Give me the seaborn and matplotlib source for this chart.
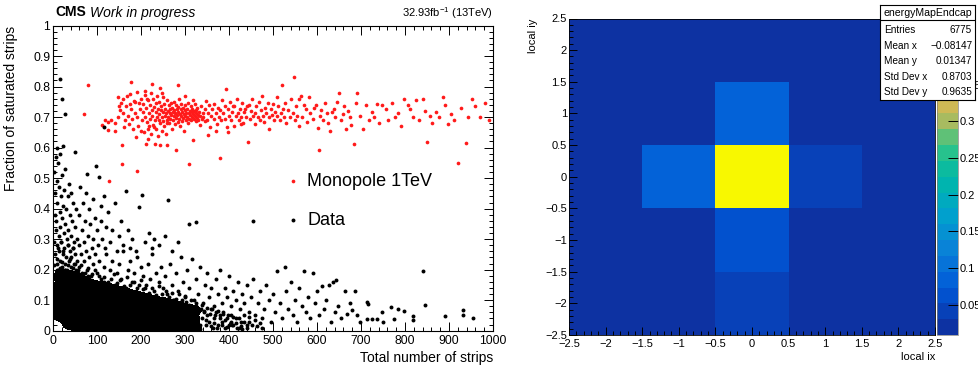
import numpy as np
import pandas as pd
import matplotlib
matplotlib.use("Agg")
import matplotlib.pyplot as plt
from matplotlib.colors import ListedColormap, LinearSegmentedColormap
from matplotlib.ticker import MultipleLocator, FuncFormatter, NullLocator
import seaborn as sns

plt.rcParams['font.family'] = ['Liberation Sans', 'DejaVu Sans']
plt.rcParams['mathtext.fontset'] = 'custom'
plt.rcParams['mathtext.rm'] = 'Liberation Sans'
plt.rcParams['mathtext.it'] = 'Liberation Sans:italic'
plt.rcParams['mathtext.bf'] = 'Liberation Sans:bold'

# ---------------- left panel data: (total strips, saturated fraction) ----------------
mono_left = [(70,.711),(80,.806),(128,.49),(112,.674),(118,.690),(124,.684),(131,.692),(126,.658),
    (140,.681),(142,.655),(148,.700),(148,.766),(152,.722),(155,.745),(157,.607),(157,.546),(159,.760),
    (160,.712),(163,.690),(165,.735),(168,.770),(170,.703),(172,.676),(175,.742),(178,.815),(178,.725),
    (180,.693),(182,.660),(184,.752),(186,.713),(188,.636),(190,.782),(191,.522),(192,.700),(194,.672),
    (196,.745),(198,.728),(199,.655),(200,.760),(150,.735),(162,.668),(174,.776),(186,.748)]
mono_dense = [(202,.690),(204,.718),(205,.742),(207,.650),(208,.772),(210,.700),(211,.612),(212,.730),
    (214,.684),(215,.755),(217,.662),(218,.712),(220,.740),(221,.695),(222,.780),(223,.646),(225,.722),
    (226,.705),(227,.758),(228,.675),(230,.733),(231,.690),(232,.612),(233,.745),(234,.715),(235,.662),
    (236,.770),(237,.700),(238,.728),(239,.638),(240,.690),(241,.750),(242,.710),(243,.680),(244,.607),
    (245,.735),(246,.722),(247,.655),(248,.700),(249,.765),(250,.688),(251,.718),(252,.742),(253,.670),
    (254,.705),(255,.728),(256,.645),(257,.712),(258,.756),(259,.692),(260,.607),(224,.808),(216,.628),
    (229,.668),(209,.786),(213,.758),(219,.672),(243,.795),(247,.778),(258,.680),
    (261,.720),(262,.700),(263,.738),(264,.682),(265,.712),(266,.726),(267,.695),(268,.745),(269,.708),
    (270,.660),(271,.730),(272,.716),(273,.690),(274,.750),(275,.703),(276,.722),(277,.678),(278,.712),
    (279,.740),(280,.591),(280,.698),(281,.727),(282,.706),(283,.684),(284,.733),(285,.718),(286,.695),
    (287,.760),(288,.711),(289,.672),(290,.726),(291,.702),(292,.742),(293,.688),(294,.716),(295,.730),
    (296,.697),(297,.710),(298,.655),(299,.722),(300,.704),(301,.738),(302,.690),(303,.714),(304,.727),
    (305,.700),(306,.680),(307,.745),(308,.712),(309,.546),(310,.694),(311,.721),(312,.707),(313,.735),
    (314,.689),(315,.716),(316,.700),(317,.728),(318,.710),(319,.624),(320,.695),(321,.719),(322,.742),
    (323,.704),(324,.686),(325,.724),(326,.712),(327,.698),(328,.730),(329,.706),(330,.690),(332,.718),
    (334,.702),(336,.736),(338,.694),(340,.714),(285,.805),(300,.770),(318,.756),(335,.675)]
mono_mid = [(342,.700),(345,.725),(348,.752),(350,.690),(352,.712),(355,.738),(357,.668),(360,.705),
    (362,.726),(365,.695),(367,.742),(370,.712),(372,.678),(375,.730),(377,.700),(379,.565),(380,.722),
    (382,.690),(385,.756),(387,.712),(390,.735),(392,.695),(395,.668),(397,.725),(400,.705),(402,.748),
    (405,.690),(407,.718),(410,.735),(412,.672),(415,.702),(418,.760),(420,.712),(422,.690),(425,.728),
    (427,.700),(430,.745),(432,.682),(435,.715),(438,.700),(440,.735),(444,.618),(353,.640),(371,.655),
    (394,.792),(412,.735),(428,.676),(436,.726),(346,.688),(398,.650),
    (445,.740),(448,.695),(450,.720),(452,.760),(455,.705),(458,.678),(460,.712),(462,.735),(465,.700),
    (468,.748),(470,.690),(472,.722),(475,.770),(478,.705),(480,.685),(482,.730),(485,.712),(488,.745),
    (490,.700),(492,.660),(495,.725),(498,.708),(500,.742),(502,.690),(505,.718),(508,.702),(510,.765),
    (512,.735),(515,.690),(518,.712),(520,.805),(522,.728),(525,.700),(528,.745),(530,.680),(535,.722),
    (538,.700),(540,.760),(545,.712),(548,.830),(550,.690),(552,.735),(555,.705),(558,.672),(560,.760)]
mono_right = [(563,.770),(566,.700),(570,.740),(574,.728),(578,.685),(582,.765),(585,.712),(590,.695),
    (594,.730),(598,.740),(602,.665),(604,.591),(606,.705),(610,.722),(614,.690),(618,.745),(622,.712),
    (626,.680),(630,.655),(634,.715),(638,.728),(642,.700),(646,.750),(650,.778),(654,.690),(658,.710),
    (662,.735),(666,.660),(670,.720),(674,.700),(678,.675),(684,.613),(688,.745),(692,.780),(698,.705),
    (705,.660),(712,.740),(718,.690),(724,.715),(730,.700),(736,.742),(742,.680),(748,.738),(756,.725),
    (762,.690),(770,.745),(778,.700),(784,.712),(790,.672),(798,.760),(806,.740),(812,.725),(818,.700),
    (826,.755),(832,.690),(840,.760),(846,.720),(849,.617),(856,.705),(862,.680),(870,.715),(878,.700),
    (886,.765),(892,.740),(898,.678),(905,.710),(912,.690),(921,.550),(928,.730),(938,.615),(944,.700),
    (952,.760),(960,.735),(970,.700),(982,.745),(992,.690)]

data_upper = [(16,.826),(20,.76),(28,.711),(115,.667),(3,.52),(5,.45),(4,.38),(6,.33),(8,.60),(9,.49),
    (10,.42),(7,.36),(12,.55),(13,.31),(14,.47),(15,.39),(16,.58),(17,.34),(18,.44),(19,.29),(20,.51),
    (21,.37),(22,.41),(23,.604),(25,.32),(26,.46),(27,.35),(28,.53),(30,.40),(31,.30),(33,.44),(35,.33),
    (36,.48),(38,.38),(40,.31),(42,.45),(44,.36),(46,.42),(48,.29),(50,.586),(51,.34),(53,.40),(55,.30),
    (11,.27),(23,.26),(34,.28),(45,.27),(6,.57)]
data_mid = [(60,.38),(62,.47),(65,.33),(68,.42),(70,.29),(72,.36),(75,.45),(78,.515),(80,.31),(82,.40),
    (85,.35),(88,.27),(90,.43),(92,.30),(95,.37),(98,.54),(100,.33),(102,.28),(105,.504),(108,.41),
    (110,.36),(112,.30),(115,.44),(118,.27),(120,.34),(125,.39),(130,.29),(135,.33),(140,.42),(145,.26),
    (150,.31),(155,.36),(160,.28),(166,.458),(170,.33),(175,.27),(180,.30),(188,.26),(195,.406),(203,.445),
    (210,.29),(218,.32),(225,.27),(230,.299),(240,.28),(255,.309),(262,.428),(270,.26),(285,.29),(310,.348),
    (325,.355),(455,.359)]
data_halo = [(2,.29),(5,.25),(8,.22),(10,.28),(12,.20),(14,.26),(16,.23),(18,.29),(20,.21),(22,.25),
    (24,.19),(26,.27),(28,.22),(30,.24),(32,.20),(34,.28),(36,.23),(38,.26),(40,.21),(42,.24),(44,.19),
    (46,.27),(48,.22),(50,.25),(52,.20),(55,.23),(58,.28),(60,.21),(63,.25),(66,.19),(70,.23),(74,.26),
    (78,.20),(82,.24),(86,.18),(90,.22),(95,.25),(100,.19),
    (105,.23),(110,.17),(115,.21),(120,.25),(125,.16),(130,.20),(135,.23),(140,.15),(145,.19),(150,.22),
    (155,.17),(160,.26),(165,.14),(170,.20),(175,.23),(180,.16),(185,.19),(190,.24),(195,.15),(200,.21),
    (205,.18),(210,.14),(215,.22),(220,.17),(225,.25),(230,.13),(235,.19),(240,.16),(245,.21),(250,.14),
    (255,.18),(260,.12),(265,.22),(270,.15),(275,.10),(280,.19),(285,.13),(290,.24),(295,.16),(300,.11),
    (305,.20),(310,.14),(315,.235),(320,.10),(325,.17),(330,.12),(335,.21),(340,.09),(345,.15),(350,.19),
    (355,.11),(360,.14),(365,.08),(370,.17),(375,.12),(380,.20),(385,.09),(390,.14),(395,.11),(400,.18),
    (405,.08),(410,.13),(415,.10),(420,.16),(425,.07),(430,.12),(435,.09),(440,.15),(445,.06),(450,.11)]
data_edge = [(3,.215),(9,.235),(15,.205),(21,.225),(27,.2),(33,.215),(39,.235),(45,.205),(51,.22),
    (57,.2),(64,.215),(72,.19),(80,.205),(88,.185),(96,.2),
    (104,.18),(110,.155),(117,.175),(124,.15),(131,.17),(138,.185),(146,.155),(153,.165),(161,.145),
    (168,.175),(176,.15),(184,.16),(192,.14),(199,.165),
    (205,.135),(212,.15),(219,.125),(226,.14),(233,.118),(241,.145),(248,.12),(256,.13),(263,.11),
    (271,.125),(279,.105),(286,.12),(294,.1),(299,.115),
    (302,.095),(308,.085),(314,.1),(320,.075),(326,.09),(332,.07),(338,.085),(344,.065),(350,.075),
    (356,.055),(362,.07),(368,.05),(374,.065),(380,.04),(386,.055),(392,.035),(398,.05),(404,.03),
    (410,.045),(416,.025),(422,.04),(428,.015),(434,.03),(440,.01),(446,.045),(452,.02),(458,.035),
    (464,.015),(470,.025),(476,.01),(348,.035),(358,.015),(366,.025),(372,.008),(384,.018),(396,.012),
    (406,.02),(418,.008),(430,.006),
    (343,.06),(347,.02),(351,.05),(355,.03),(359,.07),(363,.01),(367,.04),(371,.06),(375,.02),(379,.05),
    (383,.03),(387,.06),(391,.01),(395,.04),(399,.02),(404,.05),(410,.02),(416,.04),(422,.01),(428,.03),
    (434,.05),(440,.02),(446,.03)]
data_tail = [(455,.17),(460,.05),(465,.09),(470,.13),(475,.04),(480,.07),(485,.15),(490,.10),(495,.03),
    (500,.12),(505,.06),(510,.196),(515,.09),(520,.04),(527,.208),(530,.13),(535,.07),(540,.16),(545,.05),
    (550,.10),(555,.03),(560,.14),(565,.08),(570,.195),(575,.06),(580,.11),(585,.04),(590,.188),(595,.09),
    (600,.13),(605,.05),(611,.145),(615,.07),(620,.10),(628,.15),(632,.03),(637,.158),(640,.06),(644,.166),
    (648,.08),(655,.04),(663,.131),(668,.056),(675,.09),(680,.067),(686,.13),(692,.053),(698,.03),
    (713,.095),(717,.087),(713,.037),(725,.037),(736,.037),(747,.062),(750,.028),(769,.077),(774,.038),
    (785,.072),(797,.064),(818,.048),(818,.035),(840,.196),(846,.084),(890,.048),(932,.068),(932,.052),(955,.04)]
data_core = [(1,.05),(2,.12),(3,.18),(4,.08),(5,.15),(6,.04),(7,.10),(8,.20),(9,.07),(10,.13),(11,.17),
    (12,.05),(13,.09),(14,.14),(15,.19),(16,.06),(17,.11),(18,.16),(19,.035),(20,.08),
    (21,.13),(22,.18),(23,.05),(24,.10),(25,.15),(26,.07),(27,.12),(28,.20),(29,.04),(30,.09),(31,.14),
    (32,.17),(33,.06),(34,.11),(35,.02),(36,.16),(37,.08),(38,.13),(39,.19),(40,.05),
    (41,.10),(42,.15),(43,.01),(44,.07),(45,.12),(46,.18),(47,.04),(48,.09),(49,.14),(50,.06),(51,.11),
    (52,.17),(53,.02),(54,.08),(55,.13),(56,.19),(57,.05),(58,.10),(59,.15),(60,.03),
    (61,.07),(62,.12),(63,.16),(64,.04),(65,.09),(66,.14),(67,.01),(68,.06),(69,.11),(70,.17),(71,.03),
    (72,.08),(73,.13),(74,.05),(75,.10),(76,.15),(77,.02),(78,.07),(79,.12),(80,.18),
    (81,.04),(82,.09),(83,.14),(84,.01),(85,.06),(86,.11),(87,.16),(88,.03),(89,.08),(90,.13),(91,.05),
    (92,.10),(93,.15),(94,.02),(95,.07),(96,.12),(97,.04),(98,.09),(99,.14),(100,.06),
    (101,.11),(102,.01),(103,.15),(104,.04),(105,.08),(106,.13),(107,.03),(108,.10),(109,.06),(110,.14),
    (111,.02),(112,.09),(113,.12),(114,.05),(115,.16),(116,.07),(117,.11),(118,.01),(119,.13),(120,.04),
    (121,.09),(122,.14),(123,.06),(124,.02),(125,.11),(126,.08),(127,.13),(128,.04),(129,.10),(130,.15),
    (131,.01),(132,.07),(133,.12),(134,.05),(135,.09),(136,.14),(137,.03),(138,.11),(139,.06),(140,.13),
    (141,.02),(142,.08),(143,.12),(144,.05),(145,.10),(146,.14),(147,.01),(148,.07),(149,.11),(150,.04),
    (151,.09),(152,.13),(153,.03),(154,.06),(155,.12),(156,.08),(157,.01),(158,.10),(159,.05),(160,.13),
    (161,.07),(162,.02),(163,.11),(164,.04),(165,.09),(166,.13),(167,.06),(168,.01),(169,.10),(170,.03),
    (171,.12),(172,.08),(173,.05),(174,.11),(175,.02),(176,.07),(177,.12),(178,.04),(179,.09),(180,.06),
    (181,.11),(182,.01),(183,.08),(184,.12),(185,.03),(186,.06),(187,.10),(188,.05),(189,.02),(190,.09),
    (191,.12),(192,.04),(193,.07),(194,.11),(195,.01),(196,.06),(197,.09),(198,.03),(199,.12),(200,.05),
    (202,.08),(204,.02),(206,.11),(208,.05),(210,.09),(212,.01),(214,.07),(216,.11),(218,.04),(220,.08),
    (222,.02),(224,.10),(226,.06),(228,.03),(230,.09),(232,.11),(234,.05),(236,.01),(238,.08),(240,.04),
    (242,.10),(244,.06),(246,.02),(248,.09),(250,.05),(252,.01),(254,.08),(256,.03),(258,.10),(260,.06),
    (262,.02),(264,.09),(266,.04),(268,.07),(270,.01),(272,.10),(274,.05),(276,.03),(278,.08),(280,.06),
    (282,.01),(284,.09),(286,.04),(288,.07),(290,.02),(292,.08),(294,.05),(296,.01),(298,.07),(300,.03),
    (303,.06),(306,.02),(309,.08),(312,.04),(315,.07),(318,.01),(321,.05),(324,.08),(327,.03),(330,.06),
    (333,.02),(336,.07),(339,.04),
    (32,.012),(45,.006),(58,.01),(72,.008),(86,.012),(99,.006),(112,.004),(126,.008),(139,.005),
    (153,.009),(166,.004),(179,.007),(193,.005),(207,.008),(221,.004),(235,.006),(249,.003),(263,.007),
    (277,.004),(291,.006),(305,.004),(319,.006),(333,.005)]

legend_labels = ["Monopole 1TeV", "Data"]

# ---------------- right panel data: energy map ----------------
local_ix = [-2, -1, 0, 1, 2]
local_iy = [-2, -1, 0, 1, 2]
energy_frac = [  # rows: local iy = -2 .. 2, columns: local ix = -2 .. 2
    [0.009, 0.012, 0.050, 0.011, 0.009],
    [0.011, 0.016, 0.072, 0.015, 0.010],
    [0.013, 0.094, 0.435, 0.052, 0.012],
    [0.012, 0.015, 0.092, 0.014, 0.011],
    [0.010, 0.011, 0.012, 0.010, 0.009],
]
cell_edges = [-2.5, -1.5, -0.5, 0.5, 1.5, 2.5]
stats_title = "energyMapEndcap"
stats_names = ["Entries", "Mean x", "Mean y", "Std Dev x", "Std Dev y"]
stats_values = ["6775", "\u22120.08147", "0.01347", "0.8703", "0.9635"]
cbar_ticks = [0.05, 0.1, 0.15, 0.2, 0.25, 0.3, 0.35, 0.4]

# ---------------- figure ----------------
W, H = 979, 367
fig = plt.figure(figsize=(W / 100, H / 100), dpi=100)
def fx(p): return p / W
def fy(p): return 1 - p / H

ax1 = fig.add_axes([fx(53), fy(330.7), fx(493) - fx(53), fy(25.5) - fy(330.7)])

mono = mono_left + mono_dense + mono_mid + mono_right
data = data_upper + data_mid + data_halo + data_edge + data_tail + data_core
mono_df = pd.DataFrame(mono, columns=["strips", "frac"])
data_df = pd.DataFrame(data, columns=["strips", "frac"])
core_df = pd.DataFrame(data_core, columns=["strips", "frac"])

# solid dense core of the Data scatter, from the density of its densest points
sns.kdeplot(data=core_df, x="strips", y="frac", fill=True, levels=[0.05, 1.0], bw_adjust=0.5,
            cmap=ListedColormap(["black"]), clip=((0, 1000), (0, 1)), ax=ax1)
sns.scatterplot(data=mono_df, x="strips", y="frac", color="#ff1a1a", s=7, linewidth=0,
                ax=ax1, label=legend_labels[0])
sns.scatterplot(data=data_df, x="strips", y="frac", color="black", s=8, linewidth=0,
                ax=ax1, label=legend_labels[1])

ax1.set_xlim(0, 1000)
ax1.set_ylim(0, 1)
ax1.xaxis.set_major_locator(MultipleLocator(100))
ax1.xaxis.set_minor_locator(MultipleLocator(20))
ax1.yaxis.set_major_locator(MultipleLocator(0.1))
ax1.yaxis.set_minor_locator(MultipleLocator(0.02))
gfmt = FuncFormatter(lambda v, p: f"{v:g}".replace('-', '\u2212'))
ax1.xaxis.set_major_formatter(gfmt)
ax1.yaxis.set_major_formatter(gfmt)
ax1.tick_params(which='both', direction='in', top=True, right=True, width=0.7, labelsize=8.7)
ax1.tick_params(which='major', length=6.5)
ax1.tick_params(which='minor', length=3.2)
ax1.tick_params(axis='y', pad=2)
ax1.tick_params(axis='x', pad=3)
for s in ax1.spines.values():
    s.set_linewidth(0.8)
ax1.set_xlabel("Total number of strips", fontsize=10, loc='right', labelpad=3)
ax1.set_ylabel("Fraction of saturated strips", fontsize=10, loc='top', labelpad=11)

h, l = ax1.get_legend_handles_labels()
keep = [(hh, ll) for hh, ll in zip(h, l) if ll in legend_labels]
ax1.legend([k[0] for k in keep], [k[1] for k in keep], loc='upper left',
           bbox_to_anchor=(fx(284), fy(173)), bbox_transform=fig.transFigure,
           frameon=False, fontsize=13, handlelength=1.0, handletextpad=0.3, labelspacing=1.2,
           borderpad=0, borderaxespad=0, markerscale=1.0)

fig.text(fx(55), fy(12.5), "CMS", fontsize=10, fontweight='bold', va='center', ha='left')
fig.text(fx(90), fy(12.5), "Work in progress", fontsize=10, style='italic', va='center', ha='left')
fig.text(fx(493), fy(13), r"32.93fb$^{-1}$ (13TeV)", fontsize=8, ha='right', va='center')

# ---------------- right panel ----------------
ax2 = fig.add_axes([fx(569), fy(335), fx(935) - fx(569), fy(18.5) - fy(335)])
cax = fig.add_axes([fx(937), fy(335), fx(958) - fx(937), fy(18.5) - fy(335)])

rows = []
for i, iy in enumerate(local_iy):
    for j, ix in enumerate(local_ix):
        rows.append({"ix": ix, "iy": iy, "frac": energy_frac[i][j]})
heat_df = pd.DataFrame(rows)

nodes = [(0.0, "#0d32a2"), (0.125, "#0058d8"), (0.25, "#0a80d8"), (0.375, "#00a2cc"),
         (0.5, "#00b8a8"), (0.6, "#30c486"), (0.675, "#a0bc62"), (0.75, "#d8b852"),
         (0.875, "#fcc832"), (1.0, "#f8f800")]
base = LinearSegmentedColormap.from_list("bird", nodes)
bird20 = ListedColormap([base(i / 19) for i in range(20)])

sns.histplot(data=heat_df, x="ix", y="iy", weights="frac", bins=cell_edges, cmap=bird20,
             vmin=0.009, vmax=0.44, cbar=True, cbar_ax=cax,
             cbar_kws=dict(ticks=cbar_ticks), ax=ax2)

ax2.set_xlim(-2.5, 2.5)
ax2.set_ylim(-2.5, 2.5)
for axis in (ax2.xaxis, ax2.yaxis):
    axis.set_major_locator(MultipleLocator(0.5))
    axis.set_minor_locator(MultipleLocator(0.1))
    axis.set_major_formatter(gfmt)
ax2.tick_params(which='both', direction='in', top=False, right=False, width=0.7, labelsize=8)
ax2.tick_params(which='major', length=6)
ax2.tick_params(which='minor', length=3)
ax2.tick_params(axis='y', pad=1.5)
ax2.tick_params(axis='x', pad=3)
for s in ax2.spines.values():
    s.set_linewidth(0.6)
ax2.set_xlabel("local ix", fontsize=8, loc='right', labelpad=2)
ax2.set_ylabel("local iy", fontsize=8, loc='top', labelpad=5)

cax.tick_params(direction='in', length=7, width=0.7, labelsize=8, pad=1)
cax.yaxis.set_major_formatter(gfmt)
cax.yaxis.set_minor_locator(NullLocator())
for s in cax.spines.values():
    s.set_linewidth(0.5)
    s.set_edgecolor("#808080")

# stats box
sax = fig.add_axes([fx(880), fy(100), fx(975) - fx(880), fy(5) - fy(100)])
sax.set_xlim(0, 1)
sax.set_ylim(0, 1)
sax.set_xticks([])
sax.set_yticks([])
sax.set_facecolor("white")
for s in sax.spines.values():
    s.set_linewidth(0.8)
    s.set_edgecolor("black")
sax.axhline((100 - 20) / 95, color="black", lw=0.8)
sax.text(0.5, (100 - 12.5) / 95, stats_title, ha='center', va='center', fontsize=7.6)
row_y = [30, 45.7, 61, 77, 92]
for name, val, yy in zip(stats_names, stats_values, row_y):
    sax.text(0.04, (100 - yy) / 95, name, ha='left', va='center', fontsize=7.2)
    sax.text(0.97, (100 - yy) / 95, val, ha='right', va='center', fontsize=7.2)

fig.savefig("out.png", dpi=100)
